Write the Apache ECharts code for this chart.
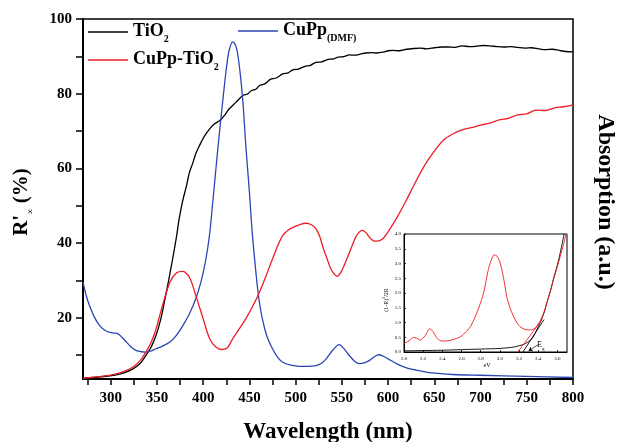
<!DOCTYPE html>
<html>
<head>
<meta charset="utf-8">
<script src="https://cdn.jsdelivr.net/npm/echarts@6/dist/echarts.min.js"></script>
<style>html,body{margin:0;padding:0;background:#fff}#c{width:617px;height:442px}</style>
</head>
<body>
<div id="c"></div>
<script>
// ---- main chart data (wavelength nm, value) ----
const tio2 = [[270,3.8],[290,4.2],[306,4.7],[315,5.3],[324,6.3],[332,7.8],[338,9.9],[344,12.3],[349,15.3],[354,19.5],[358,24.2],[363,30.5],[367,35.8],[371,41.5],[374,46.5],[378,51.5],[382,55.4],[385,58.8],[389,61.6],[392,64.0],[396,66.1],[401,68.5],[407,70.6],[412,71.9],[418,72.8],[423,74.2],[428,75.9],[435,77.6],[443,79.5],[448,79.9],[452,80.8],[457,81.2],[461,82.2],[467,82.7],[473,83.9],[479,84.2],[486,85.3],[492,85.6],[497,86.4],[503,86.6],[510,87.3],[516,87.6],[522,88.4],[528,88.5],[535,89.2],[541,89.3],[546,89.8],[552,89.9],[558,90.4],[564,90.3],[570,90.6],[576,90.9],[582,91.0],[588,90.9],[594,91.1],[600,91.5],[605,91.6],[612,91.5],[620,91.9],[628,92.1],[635,92.2],[642,92.0],[650,92.3],[658,92.5],[665,92.5],[672,92.4],[680,92.8],[688,92.6],[695,92.7],[703,92.9],[710,92.8],[718,92.6],[725,92.5],[733,92.6],[740,92.4],[748,92.2],[755,92.3],[763,92.0],[770,91.8],[778,91.9],[785,91.6],[792,91.3],[800,91.2]];
const cupptio2 = [[270,3.8],[290,4.3],[306,5.0],[315,5.7],[324,6.8],[332,8.6],[338,10.8],[344,13.6],[349,17.0],[356,23.3],[364,29.5],[371,32.0],[378,32.4],[385,30.9],[392,26.0],[400,19.7],[407,14.4],[414,12.1],[420,11.5],[426,11.9],[432,14.4],[439,17.0],[446,19.7],[454,23.3],[461,26.9],[468,31.2],[475,35.8],[481,39.5],[486,42.0],[492,43.5],[497,44.2],[504,44.9],[511,45.3],[517,44.9],[522,43.8],[526,41.8],[529,39.3],[534,35.8],[538,33.1],[542,31.6],[545,31.1],[549,32.2],[554,34.9],[560,38.6],[565,41.6],[569,43.0],[572,43.4],[576,42.8],[580,41.5],[584,40.6],[588,40.5],[594,41.1],[600,43.0],[610,47.0],[620,51.6],[630,56.5],[640,61.0],[650,64.6],[660,67.6],[670,69.2],[680,70.3],[690,70.9],[700,71.6],[710,72.1],[720,73.0],[730,73.4],[740,74.3],[750,74.6],[760,75.6],[770,75.5],[780,76.2],[790,76.5],[800,77.0]];
const cuppdmf = [[270,29.5],[274,25.5],[277,23.3],[282,20.3],[288,17.9],[294,16.6],[299,16.1],[304,15.9],[308,15.7],[312,14.8],[317,13.5],[322,12.2],[328,11.2],[333,10.9],[338,10.8],[344,11.1],[349,11.7],[356,12.4],[364,13.5],[371,15.3],[378,17.9],[385,21.0],[392,25.1],[398,30.0],[403,35.8],[407,42.5],[410,50.0],[414,60.5],[418,70.6],[422,80.0],[425,86.6],[428,91.5],[432,93.9],[435,93.0],[437,91.1],[440,85.5],[443,77.7],[446,66.5],[450,53.6],[453,43.0],[457,32.2],[460,25.5],[464,19.7],[469,15.0],[475,11.7],[480,9.6],[486,8.1],[495,7.3],[504,7.0],[513,7.0],[522,7.2],[528,7.8],[533,9.0],[540,11.3],[547,12.8],[552,11.8],[558,9.9],[564,8.3],[569,7.7],[575,8.0],[580,8.6],[586,9.7],[590,10.1],[595,9.7],[600,9.0],[610,7.6],[620,6.6],[630,6.0],[645,5.3],[670,4.8],[700,4.6],[750,4.3],[800,4.0]];
const xLabels = [300,350,400,450,500,550,600,650,700,750,800];
const xTicks = [275,300,325,350,375,400,425,450,475,500,525,550,575,600,625,650,675,700,725,750,775,800];
const yLabels = [20,40,60,80,100];
const yTicks = [10,20,30,40,50,60,70,80,90,100];
// ---- inset data (eV, (1-R)^2/2R) ----
const insetRed = [[2.0,0.28],[2.05,0.38],[2.1,0.49],[2.13,0.47],[2.17,0.41],[2.22,0.55],[2.27,0.79],[2.31,0.65],[2.35,0.45],[2.4,0.37],[2.46,0.38],[2.52,0.43],[2.58,0.5],[2.62,0.6],[2.68,0.8],[2.73,1.1],[2.78,1.5],[2.83,2.0],[2.88,2.8],[2.92,3.2],[2.94,3.29],[2.97,3.25],[3.0,3.05],[3.02,2.8],[3.05,2.3],[3.07,1.9],[3.1,1.55],[3.14,1.22],[3.18,0.98],[3.21,0.86],[3.25,0.78],[3.3,0.75],[3.34,0.76],[3.37,0.82],[3.4,0.95],[3.42,1.05],[3.46,1.35],[3.49,1.67],[3.53,2.1],[3.56,2.46],[3.6,2.9],[3.63,3.25],[3.66,3.6],[3.69,4.0]];
const insetBlack = [[2.0,0.04],[2.2,0.05],[2.4,0.06],[2.6,0.08],[2.8,0.1],[3.0,0.12],[3.1,0.15],[3.15,0.17],[3.2,0.21],[3.25,0.26],[3.28,0.31],[3.32,0.4],[3.35,0.52],[3.38,0.72],[3.42,1.0],[3.46,1.32],[3.49,1.67],[3.53,2.1],[3.56,2.5],[3.6,2.95],[3.63,3.37],[3.67,4.0]];
const tangentRed = [[3.187,0],[3.44,1.1]];
const tangentBlack = [[3.24,0],[3.46,1.1]];
const egArrow = [[3.40,0.25],[3.30,0.04]];
const insetXLabels = [2.0,2.2,2.4,2.6,2.8,3.0,3.2,3.4,3.6];
const insetYLabels = [0,0.5,1,1.5,2,2.5,3,3.5,4];

const SERIF = '"Liberation Serif","Times New Roman",serif';
const BLACK='#000', RED='#ee1c25', BLUE='#2b45b5';
const chart = echarts.init(document.getElementById('c'), null, {renderer:'canvas'});

function richStyle(text, size, subSize, color){
  return {
    text: text,
    fill: color || '#000',
    rich: {
      m: {fontFamily: SERIF, fontWeight:'bold', fontSize: size, lineHeight: 26, verticalAlign:'middle', fill: color||'#000'},
      s: {fontFamily: SERIF, fontWeight:'bold', fontSize: subSize, lineHeight: 12, verticalAlign:'bottom', fill: color||'#000'}
    },
    align:'left', verticalAlign:'top'
  };
}

const option = {
  backgroundColor:'#fff',
  animation:false,
  grid:[
    {left:83, top:19, width:490, height:360, show:true, borderColor:'#000', borderWidth:1.5, backgroundColor:'transparent'},
    {left:404, top:234, width:163, height:118, show:true, borderColor:'#000', borderWidth:1, backgroundColor:'#fff', z:5}
  ],
  xAxis:[
    {gridIndex:0, type:'value', min:270, max:800,
     axisLine:{show:true, lineStyle:{color:'#000', width:2}},
     axisTick:{show:true, inside:false, length:6, lineStyle:{color:'#000', width:1.5}, customValues:xTicks},
     axisLabel:{customValues:xLabels, margin:12, color:'#000', fontFamily:SERIF, fontWeight:'bold', fontSize:15},
     splitLine:{show:false}},
    {gridIndex:1, type:'value', min:2.0, max:3.7, z:6,
     axisLine:{show:true, lineStyle:{color:'#000', width:1}},
     axisTick:{show:true, inside:true, length:2, lineStyle:{color:'#000', width:0.8}, customValues:insetXLabels},
     axisLabel:{customValues:insetXLabels, margin:4, color:'#000', fontFamily:SERIF, fontSize:5, formatter:v=>v.toFixed(1)},
     splitLine:{show:false}}
  ],
  yAxis:[
    {gridIndex:0, type:'value', min:3.6, max:100,
     axisLine:{show:true, lineStyle:{color:'#000', width:2}},
     axisTick:{show:true, inside:false, length:7, lineStyle:{color:'#000', width:1.5}, customValues:yTicks},
     axisLabel:{customValues:yLabels, margin:11, color:'#000', fontFamily:SERIF, fontWeight:'bold', fontSize:15},
     splitLine:{show:false}},
    {gridIndex:1, type:'value', min:0, max:4, z:6,
     axisLine:{show:true, lineStyle:{color:'#000', width:1}},
     axisTick:{show:true, inside:true, length:2, lineStyle:{color:'#000', width:0.8}, customValues:insetYLabels},
     axisLabel:{customValues:insetYLabels, margin:3, color:'#000', fontFamily:SERIF, fontSize:5, formatter:v=>v.toFixed(1)},
     splitLine:{show:false}}
  ],
  series:[
    {type:'line', xAxisIndex:0, yAxisIndex:0, data:tio2, showSymbol:false, smooth:0.3, lineStyle:{color:BLACK, width:1.3}, z:3},
    {type:'line', xAxisIndex:0, yAxisIndex:0, data:cuppdmf, showSymbol:false, smooth:0.3, lineStyle:{color:BLUE, width:1.3}, z:3},
    {type:'line', xAxisIndex:0, yAxisIndex:0, data:cupptio2, showSymbol:false, smooth:0.3, lineStyle:{color:RED, width:1.3}, z:3},
    {type:'line', xAxisIndex:1, yAxisIndex:1, data:insetBlack, showSymbol:false, smooth:0.3, lineStyle:{color:BLACK, width:0.9}, z:7},
    {type:'line', xAxisIndex:1, yAxisIndex:1, data:insetRed, showSymbol:false, smooth:0.3, lineStyle:{color:RED, width:0.9}, z:7},
    {type:'line', xAxisIndex:1, yAxisIndex:1, data:tangentRed, showSymbol:false, lineStyle:{color:RED, width:0.9}, z:7},
    {type:'line', xAxisIndex:1, yAxisIndex:1, data:tangentBlack, showSymbol:false, lineStyle:{color:BLACK, width:0.9}, z:7,
     markLine:{silent:true, symbol:['none','arrow'], symbolSize:4, label:{show:false},
       lineStyle:{color:'#000', width:0.7, type:'solid'},
       data:[[{coord:egArrow[0]},{coord:egArrow[1]}]]}}
  ],
  graphic:[
    {type:'line', z:10, shape:{x1:88,y1:32,x2:128,y2:32}, style:{stroke:BLACK, lineWidth:1.3}},
    {type:'text', z:10, x:133, y:18, style:richStyle('{m|TiO}{s|2}',18,10)},
    {type:'line', z:10, shape:{x1:238,y1:31,x2:278,y2:31}, style:{stroke:BLUE, lineWidth:1.3}},
    {type:'text', z:10, x:283, y:17, style:richStyle('{m|CuPp}{s|(DMF)}',18,10)},
    {type:'line', z:10, shape:{x1:88,y1:60,x2:128,y2:60}, style:{stroke:RED, lineWidth:1.3}},
    {type:'text', z:10, x:133, y:46, style:richStyle('{m|CuPp-TiO}{s|2}',18,10)},
    {type:'text', z:10, x:328, y:432, style:{text:'Wavelength (nm)', fontFamily:SERIF, fontWeight:'bold', fontSize:23, fill:'#000', align:'center', verticalAlign:'middle'}},
    {type:'text', z:10, x:22, y:202, rotation:Math.PI/2, style:Object.assign(richStyle("{m|R'}{s|∞}{m| (%)}",21,9), {align:'center', verticalAlign:'middle'})},
    {type:'text', z:10, x:605, y:202, rotation:-Math.PI/2, style:{text:'Absorption (a.u.)', fontFamily:SERIF, fontWeight:'bold', fontSize:24, fill:'#000', align:'center', verticalAlign:'middle'}},
    {type:'text', z:10, x:386, y:300, rotation:Math.PI/2, style:{text:'(1-R){p|2}/2R', fontFamily:SERIF, fontSize:6, fill:'#000', align:'center', verticalAlign:'middle',
      rich:{p:{fontSize:4, verticalAlign:'top', lineHeight:8, fontFamily:SERIF}}}},
    {type:'text', z:10, x:487, y:365, style:{text:'eV', fontFamily:SERIF, fontSize:6, fill:'#000', align:'center', verticalAlign:'middle'}},
    {type:'text', z:10, x:537, y:339, style:{text:'{m|E}{s|g}', align:'left', verticalAlign:'top',
      rich:{m:{fontFamily:SERIF, fontSize:8, lineHeight:12, verticalAlign:'middle'}, s:{fontFamily:SERIF, fontSize:5, lineHeight:5, verticalAlign:'bottom'}}}}
  ]
};
chart.setOption(option);
</script>
</body>
</html>
